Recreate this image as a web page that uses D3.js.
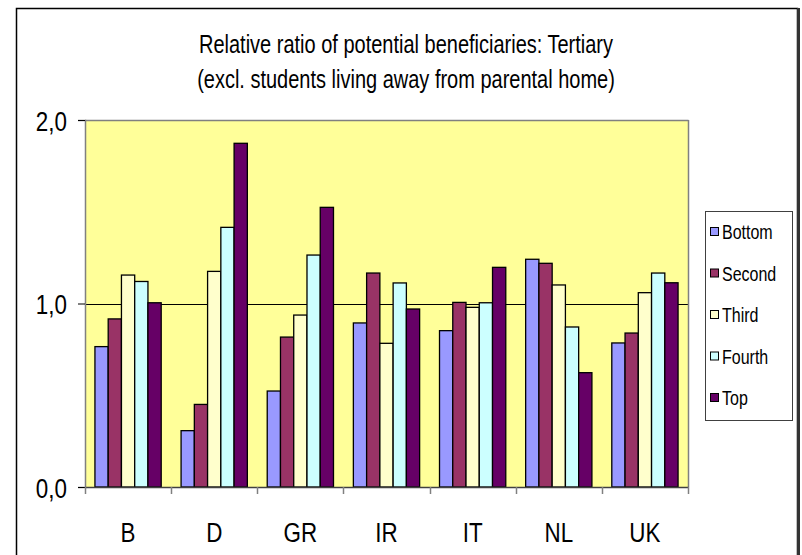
<!DOCTYPE html>
<html>
<head>
<meta charset="utf-8">
<script src="https://cdn.jsdelivr.net/npm/d3@7"></script>
<style>
  html, body { margin: 0; padding: 0; background: #fff; }
  svg { display: block; }
  text { font-family: "Liberation Sans", Arial, sans-serif; fill: #000; }
</style>
</head>
<body>
<svg id="chart" width="802" height="555"></svg>
<script>
const categories = ["B", "D", "GR", "IR", "IT", "NL", "UK"];
const seriesNames = ["Bottom", "Second", "Third", "Fourth", "Top"];
const bottomValues = [0.765, 0.307, 0.523, 0.894, 0.852, 1.241, 0.785];
const secondValues = [0.916, 0.450, 0.817, 1.166, 1.006, 1.219, 0.839];
const thirdValues  = [1.155, 1.175, 0.937, 0.783, 0.979, 1.101, 1.059];
const fourthValues = [1.120, 1.415, 1.264, 1.112, 1.004, 0.872, 1.166];
const topValues    = [1.004, 1.873, 1.524, 0.970, 1.197, 0.623, 1.113];
const yTicks = [0, 1, 2];
const yTickLabels = ["0,0", "1,0", "2,0"];
const titleLines = ["Relative ratio of potential beneficiaries: Tertiary",
                    "(excl. students living away from parental home)"];

const seriesValues = [bottomValues, secondValues, thirdValues, fourthValues, topValues];
const colors = ["#9999FF", "#993366", "#FFFFCC", "#CCFFFF", "#660066"];
const SX = 0.8; // horizontal condensing of the narrow font

const svg = d3.select("#chart");
const plot = { left: 85, right: 688, top: 120, bottom: 487 };

// outer chart frame
svg.append("rect").attr("x", 16.5).attr("y", 8.5).attr("width", 781).attr("height", 560)
  .attr("fill", "#fff").attr("stroke", "#000").attr("stroke-width", 1.5);
svg.append("line").attr("x1", 798.5).attr("x2", 798.5).attr("y1", 8).attr("y2", 555)
  .attr("stroke", "#333").attr("stroke-width", 3);

// title
svg.selectAll("text.title").data(titleLines).join("text")
  .attr("class", "title")
  .attr("transform", (d, i) => `translate(406,${53 + i * 35}) scale(${SX},1)`)
  .attr("text-anchor", "middle")
  .attr("font-size", 25)
  .text(d => d);

const x0 = d3.scaleBand().domain(categories).range([plot.left, plot.right]).padding(0);
const x1 = d3.scaleBand().domain(seriesNames).range([0, x0.bandwidth()]).paddingInner(0).paddingOuter(0.75);
const y = d3.scaleLinear().domain([0, 2]).range([plot.bottom, plot.top]);

// plot background
svg.append("rect").attr("x", plot.left).attr("y", plot.top)
  .attr("width", plot.right - plot.left).attr("height", plot.bottom - plot.top)
  .attr("fill", "#FFFF99");

// gridline at 1.0
svg.append("g").selectAll("line").data(yTicks.filter(t => t > 0 && t < 2)).join("line")
  .attr("x1", plot.left).attr("x2", plot.right)
  .attr("y1", d => Math.round(y(d)) + 0.5).attr("y2", d => Math.round(y(d)) + 0.5)
  .attr("stroke", "#000").attr("stroke-width", 1);

// plot frame top & right
svg.append("line").attr("x1", plot.left).attr("x2", plot.right + 0.5)
  .attr("y1", plot.top + 0.5).attr("y2", plot.top + 0.5).attr("stroke", "#808080").attr("stroke-width", 1.5);
svg.append("line").attr("x1", plot.right + 0.5).attr("x2", plot.right + 0.5)
  .attr("y1", plot.top).attr("y2", plot.bottom).attr("stroke", "#808080").attr("stroke-width", 1.5);

// bars
const groups = svg.append("g").selectAll("g").data(categories).join("g")
  .attr("transform", d => `translate(${x0(d)},0)`);
groups.selectAll("rect").data((c, ci) => seriesNames.map((s, si) => ({ s, si, v: seriesValues[si][ci] })))
  .join("rect")
  .attr("x", d => x1(d.s))
  .attr("y", d => y(d.v))
  .attr("width", x1.bandwidth())
  .attr("height", d => y(0) - y(d.v))
  .attr("fill", d => colors[d.si])
  .attr("stroke", "#000").attr("stroke-width", 1.3);

// y axis
const yAxis = d3.axisLeft(y).tickValues(yTicks).tickFormat((d, i) => yTickLabels[i]).tickSize(7).tickPadding(0);
const gy = svg.append("g").attr("transform", `translate(${plot.left},0)`).call(yAxis);
gy.select(".domain").attr("stroke", "#808080").attr("stroke-width", 1.5);
gy.selectAll(".tick line").attr("stroke", "#000");
gy.selectAll(".tick text").attr("font-size", 28).attr("font-family", null)
  .attr("x", null).attr("dy", "0.36em")
  .attr("transform", `translate(-18,0) scale(${SX},1)`);

// x axis
const gx = svg.append("g").attr("transform", `translate(0,${plot.bottom})`)
  .call(d3.axisBottom(x0).tickSize(0).tickPadding(0));
gx.select(".domain").attr("stroke", "#404040").attr("stroke-width", 1.5);
gx.selectAll(".tick text").attr("font-size", 28).attr("font-family", null)
  .attr("y", null).attr("dy", "0.71em")
  .attr("transform", `translate(0,35) scale(${SX},1)`);
// category boundary tick marks
const boundaries = categories.map(c => x0(c)).concat([plot.right]);
gx.append("g").selectAll("line").data(boundaries).join("line")
  .attr("x1", d => Math.round(d) + 0.5).attr("x2", d => Math.round(d) + 0.5)
  .attr("y1", 0).attr("y2", 7).attr("stroke", "#808080").attr("stroke-width", 1.5);

// legend
const legend = svg.append("g");
legend.append("rect").attr("x", 705.5).attr("y", 211.5).attr("width", 87).attr("height", 209)
  .attr("fill", "#fff").attr("stroke", "#404040").attr("stroke-width", 1);
const li = legend.selectAll("g.item").data(seriesNames).join("g").attr("class", "item")
  .attr("transform", (d, i) => `translate(0,${232 + i * 41.5})`);
li.append("rect").attr("x", 710.5).attr("y", -4.5).attr("width", 8).attr("height", 8)
  .attr("fill", (d, i) => colors[i]).attr("stroke", "#000").attr("stroke-width", 1);
li.append("text").attr("transform", `translate(722,0) scale(${SX},1)`).attr("dy", "0.36em")
  .attr("font-size", 20).text(d => d);
</script>
</body>
</html>
